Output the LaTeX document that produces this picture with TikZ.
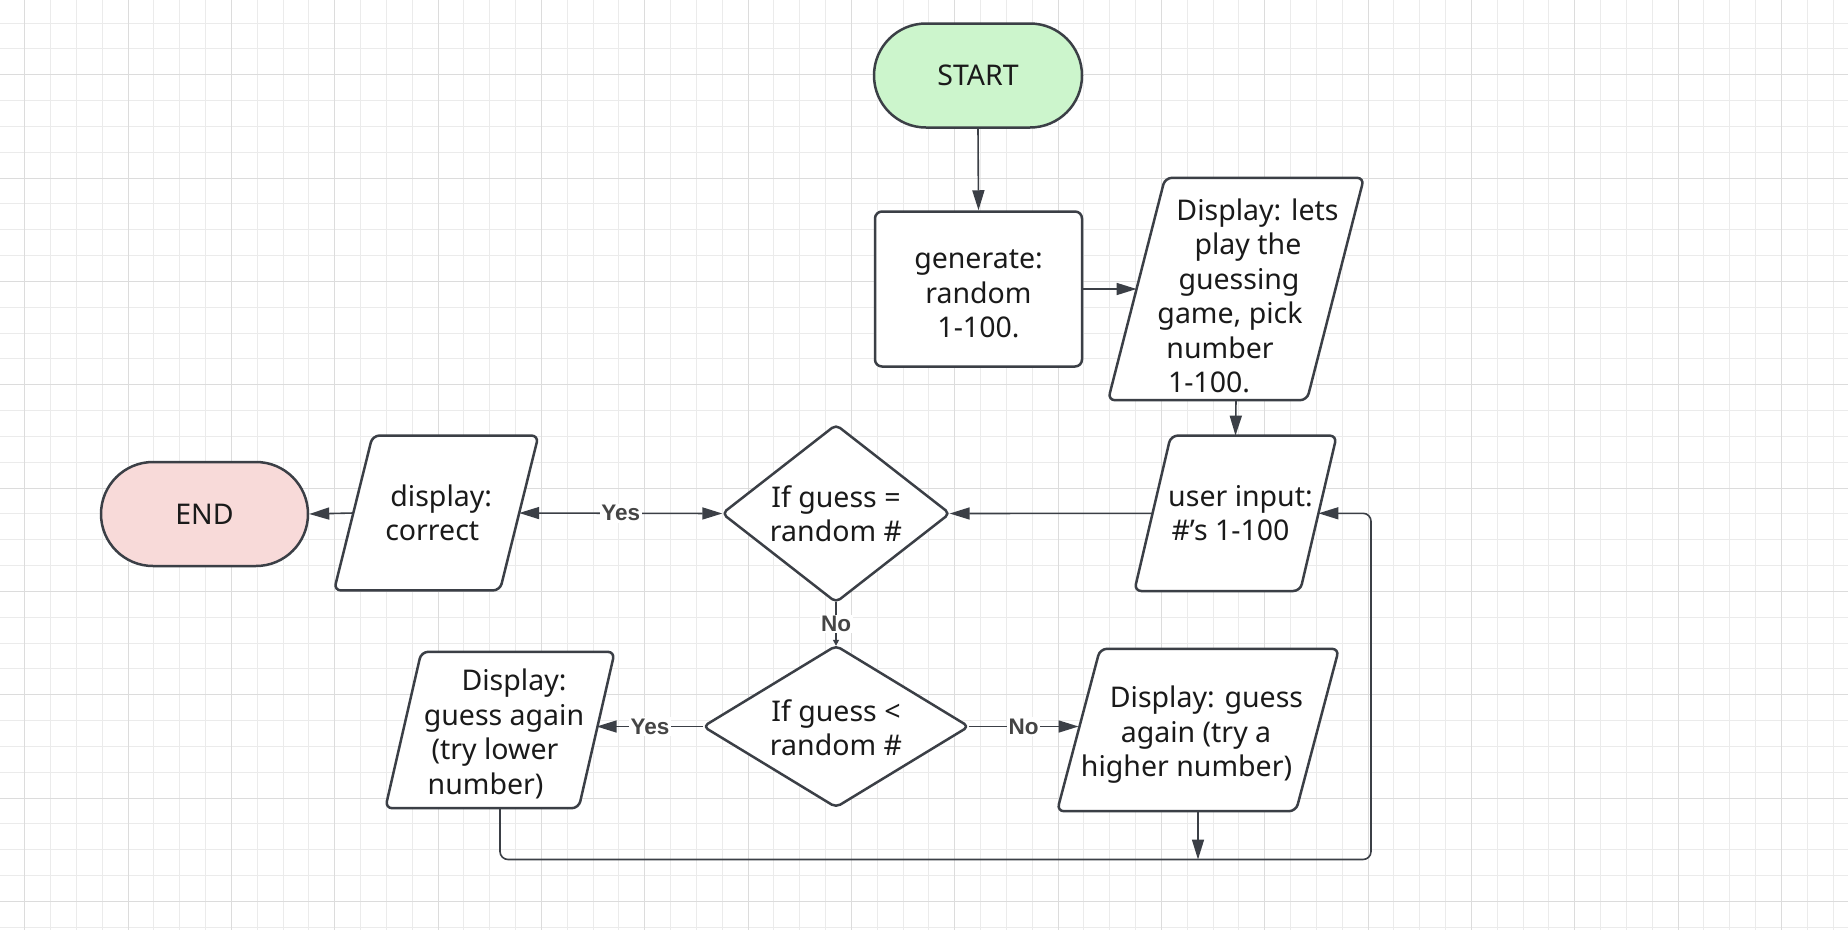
\documentclass[tikz,border=0pt]{standalone}
\usepackage{fontspec}
\setmainfont{Noto Sans}
\newfontfamily\lblfont{Liberation Sans}
\usetikzlibrary{arrows.meta,shapes.misc,calc}
\pgfdeclarelayer{gridlayer}
\pgfdeclarelayer{backlayer}
\pgfsetlayers{gridlayer,backlayer,main}
\definecolor{ink}{HTML}{3B3F46}
\definecolor{txt}{HTML}{1A1A1A}
\definecolor{lbltxt}{HTML}{454545}
\definecolor{startfill}{HTML}{CCF5CC}
\definecolor{endfill}{HTML}{F8DAD9}
\definecolor{gridminor}{HTML}{EBEBEB}
\definecolor{gridmajor}{HTML}{DCDCDC}
\newcommand\shl[2]{\hbox{\kern#1pt\relax#2\kern-#1pt\relax}}
\begin{document}
\begin{tikzpicture}[x=1pt,y=-1pt,
  body/.style={font=\fontsize{28.5}{34.5}\selectfont, align=center, inner sep=0pt, text=txt},
  outline/.style={draw=ink, line width=2.5pt, line join=round},
  term/.style={body, outline, rounded rectangle, minimum height=104},
  procbox/.style={outline, rectangle, rounded corners=7, fill=white, inner sep=0pt},
  ghost/.style={inner sep=0pt},
  conn/.style={draw=ink, line width=1.6pt},
  arr/.style={conn, -{Triangle[length=20pt,width=12pt]}},
  biarr/.style={conn, {Triangle[length=20pt,width=12pt]}-{Triangle[length=20pt,width=12pt]}},
  smallarr/.style={conn, -{Triangle[length=6pt,width=6pt]}},
  lbl/.style={font=\lblfont\bfseries\fontsize{22.5}{26}\selectfont, text=lbltxt, fill=white, inner sep=1.5pt},
  shapefill/.style={outline, fill=white, rounded corners=7},
  gridline/.style={line width=1pt},
]
\useasboundingbox (0,0) rectangle (1848,930);
\begin{pgfonlayer}{gridlayer}
\begin{scope}
\clip (0,0) rectangle (1848,930);
\fill[white] (0,0) rectangle (1848,930);
\foreach \i in {0,...,71} {\draw[gridminor, gridline] ({round(24.3+25.833*\i)+0.5},0) -- ({round(24.3+25.833*\i)+0.5},930);}
\foreach \i in {-2,...,33} {\draw[gridminor, gridline] (0,{round(74.2+25.833*\i)+0.5}) -- (1848,{round(74.2+25.833*\i)+0.5});}
\foreach \i in {0,...,17} {\draw[gridmajor, gridline] ({round(24.3+103.333*\i)+0.5},0) -- ({round(24.3+103.333*\i)+0.5},930);}
\foreach \i in {0,...,8} {\draw[gridmajor, gridline] (0,{round(74.2+103.333*\i)+0.5}) -- (1848,{round(74.2+103.333*\i)+0.5});}
\end{scope}
\end{pgfonlayer}

\node[term, fill=startfill, minimum width=208] (start) at (978,75.5) {START};
\node[procbox, minimum width=207, minimum height=155] (gen) at (978.5,289) {};
\node[body, yshift=-5] (gen-t) at (gen) {generate:\\random\\1-100.};
\node[ghost, minimum width=198.5, minimum height=222] (disp) at (1236,289) {};
\node[body, yshift=-7] (disp-t) at (disp) {\shl{21.5}{Display: lets}\\ \shl{12}{play the}\\ \shl{3}{guessing}\\ \shl{-6}{game, pick}\\ \shl{-16}{number}\\ \shl{-27}{1-100.}};
\node[ghost, minimum width=165.5, minimum height=155] (inp) at (1235.5,513.3) {};
\node[body] (inp-t) at (inp) {\shl{5}{user input:}\\ \shl{-5}{\#'s 1-100}};
\node[ghost, minimum width=227, minimum height=177] (dec1) at (836,513.5) {};
\node[body] (dec1-t) at (dec1) {If guess =\\random \#};
\node[ghost, minimum width=165.5, minimum height=154.5] (corr) at (436.25,513) {};
\node[body] (corr-t) at (corr) {\shl{5}{display:}\\ \shl{-4}{correct}};
\node[term, fill=endfill, minimum width=207] (end) at (204.5,514) {END};
\node[ghost, minimum width=265, minimum height=161] (dec2) at (836,726.5) {};
\node[body, yshift=-1] (dec2-t) at (dec2) {If guess <\\random \#};
\node[ghost, minimum width=193, minimum height=156] (low) at (500,730) {};
\node[body, yshift=-4] (low-t) at (low) {\shl{14}{Display:}\\ \shl{4}{guess again}\\ \shl{-5}{(try lower}\\ \shl{-14.4}{number)}};
\node[ghost, minimum width=238.5, minimum height=162] (high) at (1198,730) {};
\node[body, yshift=-5] (high-t) at (high) {\shl{8.5}{Display: guess}\\ \shl{-2}{again (try a}\\ \shl{-11.5}{higher number)}};

\begin{pgfonlayer}{backlayer}
\draw[shapefill] ([xshift=28.5]disp.north west) -- ([xshift=28.5]disp.north east) -- ([xshift=-28.5]disp.south east) -- ([xshift=-28.5]disp.south west) -- cycle;
\draw[shapefill] ([xshift=18.25]inp.north west) -- ([xshift=18.25]inp.north east) -- ([xshift=-18.25]inp.south east) -- ([xshift=-18.25]inp.south west) -- cycle;
\draw[shapefill] ([xshift=19.25]corr.north west) -- ([xshift=19.25]corr.north east) -- ([xshift=-19.25]corr.south east) -- ([xshift=-19.25]corr.south west) -- cycle;
\draw[shapefill] ([xshift=18]low.north west) -- ([xshift=18]low.north east) -- ([xshift=-18]low.south east) -- ([xshift=-18]low.south west) -- cycle;
\draw[shapefill] ([xshift=21.5]high.north west) -- ([xshift=21.5]high.north east) -- ([xshift=-21.5]high.south east) -- ([xshift=-21.5]high.south west) -- cycle;
\draw[shapefill, rounded corners=5] (dec1.north) -- (dec1.east) -- (dec1.south) -- (dec1.west) -- cycle;
\draw[shapefill, rounded corners=5] (dec2.north) -- (dec2.east) -- (dec2.south) -- (dec2.west) -- cycle;
\end{pgfonlayer}

\draw[arr] (start.south) -- (gen.north);
\draw[arr] (gen.east) -- (disp.west);
\draw[arr] (disp.south) -- (inp.north);
\draw[arr] (inp.west) -- (dec1.east);
\draw[biarr] (dec1.west) -- node[lbl]{Yes} (corr.east);
\draw[arr] (corr.west) -- (end.east);
\draw[smallarr] (dec1.south) -- node[lbl]{No} (dec2.north);
\draw[arr] (dec2.west) -- node[lbl]{Yes} (dec2.west -| low.east);
\draw[arr] (dec2.east) -- node[lbl]{No} (dec2.east -| high.west);
\coordinate (lb) at (1371,859.5);
\draw[arr] (high.south) -- (high.south |- lb);
\draw[arr, rounded corners=8] (low.south) |- (lb) |- (inp.east);
\end{tikzpicture}
\end{document}
